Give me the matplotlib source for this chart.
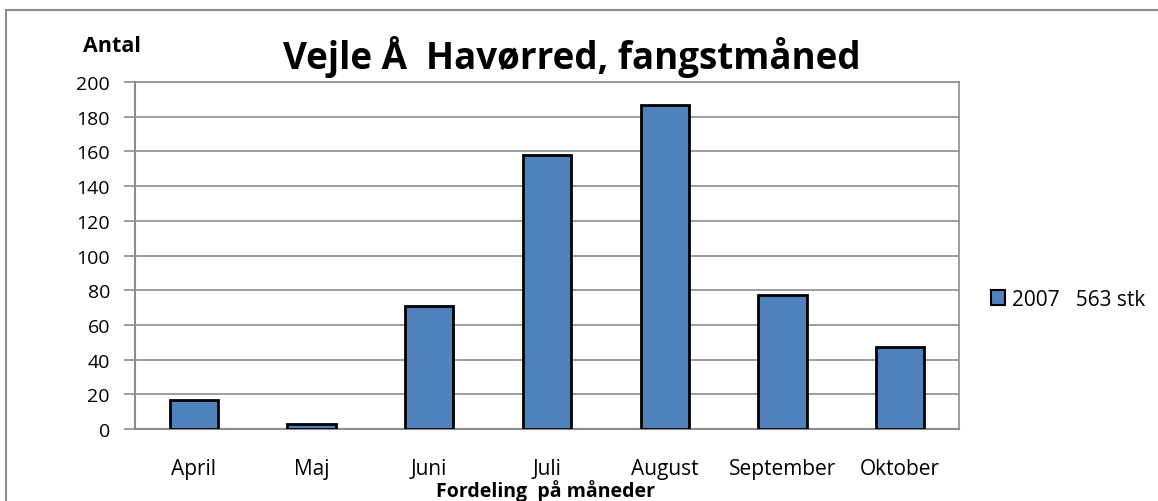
import matplotlib.pyplot as plt
from matplotlib.patches import Rectangle, Patch

# data
months = ["April", "Maj", "Juni", "Juli", "August", "September", "Oktober"]
catches = [17, 3, 71, 158, 187, 77, 47]
series_label = "2007   563 stk"
yticks = list(range(0, 201, 20))

plt.rcParams['font.family'] = ['Open Sans', 'DejaVu Sans']

fig = plt.figure(figsize=(11.58, 5.02), dpi=100)
ax = fig.add_axes([135 / 1158, 1 - 430 / 502, 824 / 1158, 347 / 502])

grid_col = "#8c8c8c"
bars = ax.bar(months, catches, width=0.41, color="#4f81bd",
              edgecolor="black", linewidth=2, zorder=3, label=series_label)

ax.set_ylim(0, 200)
ax.set_xlim(-0.5, len(months) - 0.5)
ax.set_yticks(yticks)
ax.yaxis.grid(True, color=grid_col, linewidth=1.2, zorder=0)
ax.tick_params(axis='y', length=8, width=1.2, color=grid_col, labelsize=14, pad=10)
ax.tick_params(axis='x', length=0, labelsize=15, pad=21)

for s in ["top", "right"]:
    ax.spines[s].set_color(grid_col)
    ax.spines[s].set_linestyle((0, (3, 1)))
    ax.spines[s].set_linewidth(1.2)
for s in ["left", "bottom"]:
    ax.spines[s].set_color(grid_col)
    ax.spines[s].set_linewidth(1.5)

# titles
fig.text(572 / 1158, 1 - 57 / 502, "Vejle Å  Havørred, fangstmåned",
         fontsize=26.5, fontweight="bold", ha="center", va="center")
fig.text(112 / 1158, 1 - 47 / 502, "Antal", fontsize=15.5, fontweight="bold",
         ha="center", va="center")
fig.text(546 / 1158, 1 - 491 / 502, "Fordeling  på måneder", fontsize=14,
         fontweight="bold", ha="center", va="center")

# legend
fig.legend(handles=[Patch(facecolor="#4f81bd", edgecolor="black", linewidth=1.5)],
           labels=[series_label], loc="center left",
           bbox_to_anchor=(972 / 1158, 1 - 300 / 502), frameon=False,
           fontsize=15, handlelength=0.7, handleheight=0.7, handletextpad=0.3)

# outer chart border
fig.patches.append(Rectangle((6 / 1158, -0.1), 1.2, 1 - 11 / 502 + 0.1,
                             transform=fig.transFigure, fill=False,
                             edgecolor=grid_col, linewidth=1.5))

fig.savefig("out.png", dpi=100)
